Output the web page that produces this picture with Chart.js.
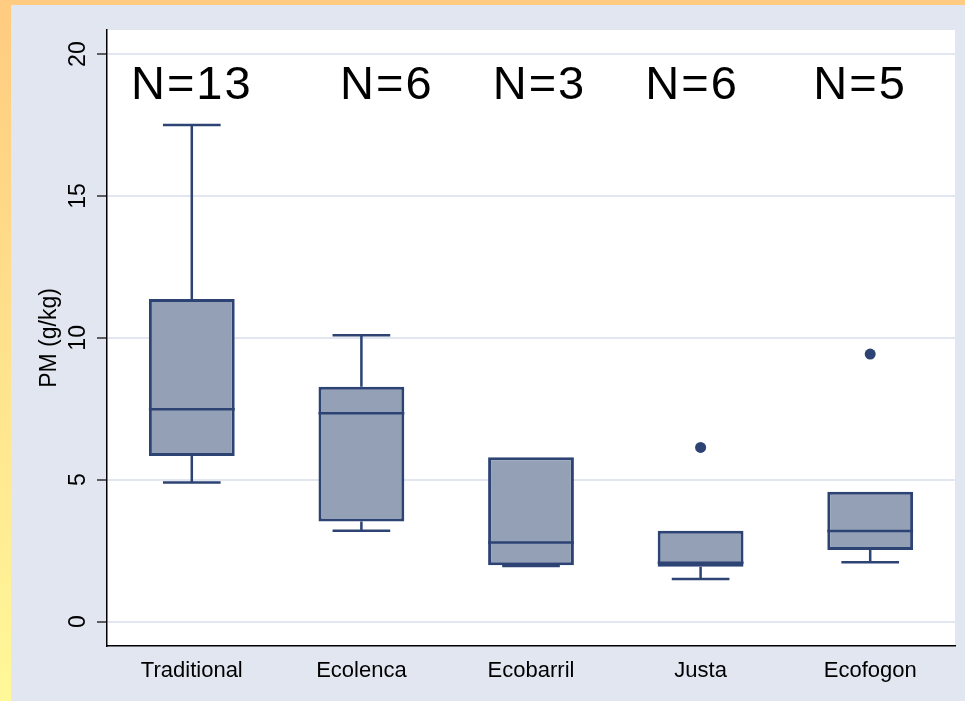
<!DOCTYPE html>
<html>
<head>
<meta charset="utf-8">
<script src="https://cdn.jsdelivr.net/npm/chart.js@4.4.1/dist/chart.umd.min.js"></script>
<style>
  html, body { margin: 0; padding: 0; }
  body {
    width: 965px; height: 701px; overflow: hidden; position: relative;
    background: linear-gradient(to bottom, #ffcb80, #fff899);
  }
  #panel { position: absolute; left: 11px; top: 5px; right: 0; bottom: 0; background: #e1e6f0; }
  #wrap { position: absolute; left: 0; top: 0; width: 965px; height: 701px; }
</style>
</head>
<body>
<div id="panel"></div>
<div id="wrap"><canvas id="chart"></canvas></div>
<script>
const categories = ['Traditional', 'Ecolenca', 'Ecobarril', 'Justa', 'Ecofogon'];
const whiskerLow = [4.9, 3.2, 1.96, 1.5, 2.09];
const quartile1 = [5.84, 3.53, 1.99, 1.93, 2.52];
const medians = [7.48, 7.34, 2.79, 2.07, 3.19];
const quartile3 = [11.37, 8.28, 5.79, 3.2, 4.58];
const whiskerHigh = [17.5, 10.09, 5.79, 3.2, 4.58];
const outliers = [null, null, null, 6.14, 9.43];
const sampleSizes = ['N=13', 'N=6', 'N=3', 'N=6', 'N=5'];
const nLabelPos = [0, 1.15, 2.05, 2.95, 3.94];
const nLabelY = 18.42;
const yTicks = [0, 5, 10, 15, 20];

const boxLine = '#2c4374';
const boxFill = '#94a0b6';
const fontFamily = '"Liberation Sans", Arial, sans-serif';

// whiskers go under the boxes, medians on top, then all the text
const boxExtras = {
    id: 'boxExtras',
    beforeDraw(chart) {
        const { ctx, chartArea: a } = chart;
        ctx.save();
        ctx.fillStyle = '#ffffff';
        ctx.fillRect(a.left, a.top, a.right - a.left, a.bottom - a.top);
        ctx.restore();
    },
    beforeDatasetsDraw(chart) {
        const { ctx, scales: { x, y } } = chart;
        const capHalf = (x.getPixelForValue(1) - x.getPixelForValue(0)) * 0.17;
        ctx.save();
        ctx.strokeStyle = boxLine;
        ctx.lineWidth = 2.5;
        categories.forEach((c, i) => {
            const cx = x.getPixelForValue(i);
            const hi = y.getPixelForValue(whiskerHigh[i]);
            const lo = y.getPixelForValue(whiskerLow[i]);
            ctx.beginPath();
            if (whiskerHigh[i] > quartile3[i]) {
                ctx.moveTo(cx, y.getPixelForValue(quartile3[i]));
                ctx.lineTo(cx, hi);
                ctx.moveTo(cx - capHalf, hi);
                ctx.lineTo(cx + capHalf, hi);
            }
            if (whiskerLow[i] < quartile1[i]) {
                ctx.moveTo(cx, y.getPixelForValue(quartile1[i]));
                ctx.lineTo(cx, lo);
                ctx.moveTo(cx - capHalf, lo);
                ctx.lineTo(cx + capHalf, lo);
            }
            ctx.stroke();
        });
        ctx.restore();
    },
    afterDatasetsDraw(chart) {
        const { ctx, scales: { x, y } } = chart;
        const bars = chart.getDatasetMeta(0).data;
        ctx.save();
        ctx.strokeStyle = boxLine;
        ctx.lineWidth = 2.5;
        categories.forEach((c, i) => {
            const cx = x.getPixelForValue(i);
            const half = bars[i].width / 2;
            ctx.beginPath();
            ctx.moveTo(cx - half, y.getPixelForValue(medians[i]));
            ctx.lineTo(cx + half, y.getPixelForValue(medians[i]));
            ctx.stroke();
        });
        ctx.restore();
    },
    afterDraw(chart) {
        const { ctx, chartArea: a, scales: { x, y } } = chart;
        const step = x.getPixelForValue(1) - x.getPixelForValue(0);
        ctx.save();
        ctx.fillStyle = '#000';

        // N labels
        ctx.font = '47px ' + fontFamily;
        ctx.textAlign = 'center';
        ctx.textBaseline = 'alphabetic';
        ctx.letterSpacing = '2px';
        sampleSizes.forEach((t, i) => {
            ctx.fillText(t, x.getPixelForValue(0) + nLabelPos[i] * step, y.getPixelForValue(nLabelY));
        });
        ctx.letterSpacing = '0px';

        // category labels
        ctx.font = '22px ' + fontFamily;
        categories.forEach((c, i) => {
            ctx.fillText(c, x.getPixelForValue(i), a.bottom + 31);
        });

        // y tick labels, rotated
        ctx.font = '23px ' + fontFamily;
        ctx.textBaseline = 'middle';
        yTicks.forEach(v => {
            ctx.save();
            ctx.translate(a.left - 28, y.getPixelForValue(v));
            ctx.rotate(-Math.PI / 2);
            ctx.fillText(String(v), 0, 0);
            ctx.restore();
        });

        // y title
        ctx.translate(a.left - 57, (a.top + a.bottom) / 2);
        ctx.rotate(-Math.PI / 2);
        ctx.fillText('PM (g/kg)', 0, 0);
        ctx.restore();
    }
};

new Chart(document.getElementById('chart'), {
    type: 'bar',
    data: {
        labels: categories,
        datasets: [
            {
                type: 'bar',
                data: categories.map((c, i) => [quartile1[i], quartile3[i]]),
                backgroundColor: boxFill,
                borderColor: boxLine,
                borderWidth: 3,
                borderSkipped: false,
                barPercentage: 0.506,
                categoryPercentage: 1,
                order: 2
            },
            {
                type: 'line',
                data: outliers,
                showLine: false,
                pointRadius: 5.5,
                pointBackgroundColor: boxLine,
                pointBorderWidth: 0,
                order: 1
            }
        ]
    },
    options: {
        responsive: true,
        maintainAspectRatio: false,
        animation: false,
        layout: { padding: { left: 107, right: 10, top: 30, bottom: 55 } },
        plugins: { legend: { display: false }, tooltip: { enabled: false } },
        scales: {
            x: {
                type: 'category',
                grid: { display: true, color: 'transparent', drawTicks: false },
                border: { display: true, color: '#000', width: 1.5 },
                ticks: { display: false },
                afterFit: s => { s.height = 0; }
            },
            y: {
                min: -0.86,
                max: 20.85,
                afterBuildTicks: s => { s.ticks = yTicks.map(v => ({ value: v })); },
                grid: { color: '#e1e6f0', lineWidth: 2, tickColor: '#000', tickLength: 10, tickWidth: 1.2 },
                border: { display: true, color: '#000', width: 1.5 },
                ticks: { display: false },
                afterFit: s => { s.width = 0; }
            }
        }
    },
    plugins: [boxExtras]
});
</script>
</body>
</html>
